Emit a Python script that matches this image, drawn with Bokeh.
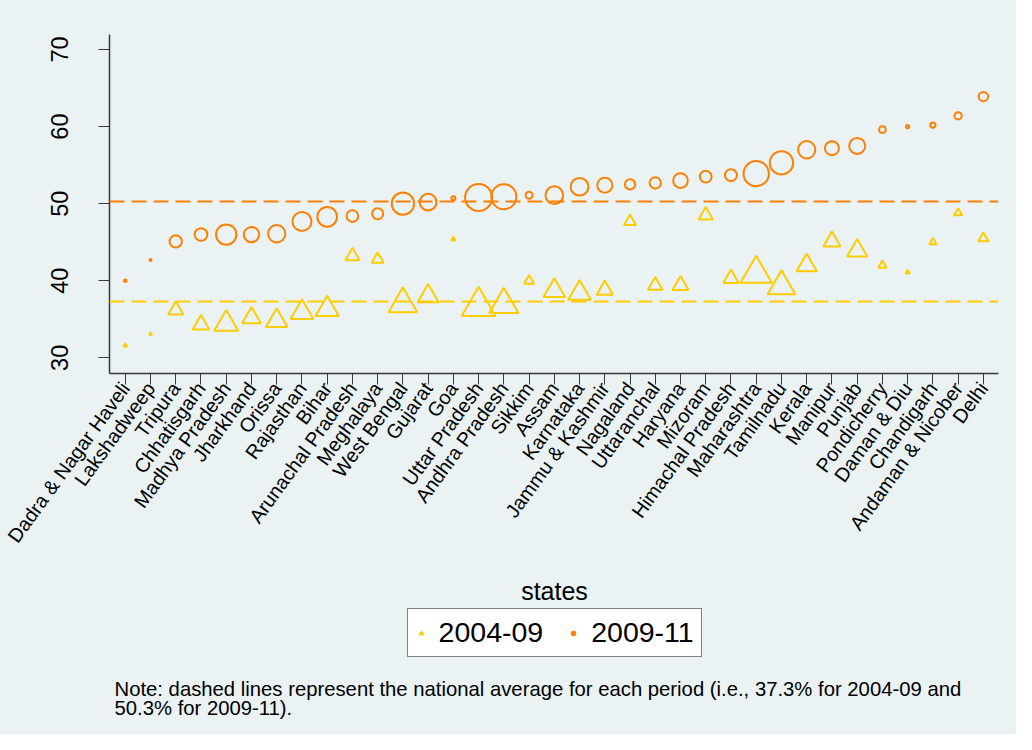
import math
from bokeh.plotting import figure
from bokeh.layouts import column
from bokeh.models import (ColumnDataSource, Range1d, FixedTicker, Span, Label,
                          Legend, LegendItem)
from bokeh.embed import file_html
from bokeh.resources import INLINE

# ---------------- data ----------------
states = ["Dadra & Nagar Haveli", "Lakshadweep", "Tripura", "Chhatisgarh",
          "Madhya Pradesh", "Jharkhand", "Orissa", "Rajasthan", "Bihar",
          "Arunachal Pradesh", "Meghalaya", "West Bengal", "Gujarat", "Goa",
          "Uttar Pradesh", "Andhra Pradesh", "Sikkim", "Assam", "Karnataka",
          "Jammu & Kashmir", "Nagaland", "Uttaranchal", "Haryana", "Mizoram",
          "Himachal Pradesh", "Maharashtra", "Tamilnadu", "Kerala", "Manipur",
          "Punjab", "Pondicherry", "Daman & Diu", "Chandigarh",
          "Andaman & Nicober", "Delhi"]

share_0409 = [31.6, 33.1, 36.2, 34.3, 34.4, 35.2, 34.8, 35.9, 36.3, 43.2,
              42.8, 37.0, 38.0, 45.4, 36.7, 36.9, 40.0, 38.7, 38.4, 38.8,
              47.7, 39.4, 39.4, 48.5, 40.3, 40.9, 39.3, 42.0, 45.1, 43.9,
              42.0, 41.1, 45.0, 48.8, 45.5]

share_0911 = [40.0, 42.7, 45.1, 46.0, 46.0, 46.0, 46.1, 47.7, 48.3, 48.4,
              48.7, 50.0, 50.2, 50.7, 50.8, 50.9, 51.1, 51.1, 52.2, 52.4,
              52.5, 52.7, 53.0, 53.5, 53.7, 53.9, 55.3, 57.0, 57.2, 57.5,
              59.6, 60.0, 60.2, 61.4, 63.9]

# relative weights (marker area)
weight_0409 = [4.5, 3.6, 33.5, 38.8, 72.9, 47.1, 61.0, 66.0, 69.2, 29.9,
               22.5, 100.5, 57.6, 5.3, 134.7, 104.3, 16.9, 61.0, 66.0, 37.2,
               22.5, 31.3, 37.2, 29.9, 33.5, 117.6, 94.2, 54.3, 41.2, 54.3,
               12.8, 5.3, 10.6, 12.8, 17.7]

weight_0911 = [2.2, 1.6, 20.4, 21.6, 49.7, 29.9, 37.2, 44.1, 47.1, 18.8,
               16.9, 59.0, 35.0, 3.6, 84.1, 72.9, 8.1, 38.8, 38.8, 28.9,
               15.1, 17.7, 27.9, 18.8, 19.6, 74.5, 64.0, 37.2, 25.6, 32.4,
               7.6, 2.8, 5.3, 8.6, 12.8]

avg_0409 = 37.3
avg_0911 = 50.3

series_labels = ["2004-09", "2009-11"]
x_title = "states"
note_lines = ["Note: dashed lines represent the national average for each period (i.e., 37.3% for 2004-09 and",
              "50.3% for 2009-11)."]

# ---------------- styling ----------------
BG = "#EAF2F3"
GOLD = "#FFCC00"
ORANGE = "#FF7F00"
FONT = "Liberation Sans"
AXIS = "#3a3a3a"
W = 1016
H1, H2 = 560, 174
LEFT, RIGHT = 109, 18

idx = list(range(len(states)))
size_tri = [max(math.sqrt(w * 10) - 3.0, 2.0) for w in weight_0409]
size_cir = [max(math.sqrt(w * 10) - 2.0, 1.5) for w in weight_0911]

src = ColumnDataSource(dict(x=idx, y04=share_0409, y09=share_0911,
                            s04=size_tri, s09=size_cir))

# ---------------- main plot ----------------
p1 = figure(width=W, height=H1, output_backend="svg", toolbar_location=None,
            x_range=Range1d(-0.625, 34.6), y_range=Range1d(27.97, 71.95))
p1.min_border_left = LEFT
p1.min_border_right = RIGHT
p1.min_border_top = 34
p1.min_border_bottom = H1 - 373
p1.background_fill_color = BG
p1.border_fill_color = BG
p1.outline_line_color = None
p1.grid.visible = False

r1 = p1.scatter("x", "y04", source=src, size="s04", marker="triangle",
                fill_color=None, line_color=GOLD, line_width=2)
r2 = p1.scatter("x", "y09", source=src, size="s09", marker="circle",
                fill_color=None, line_color=ORANGE, line_width=2)

p1.add_layout(Span(location=avg_0409, dimension="width", line_color=GOLD,
                   line_width=2, line_dash="15 7"))
p1.add_layout(Span(location=avg_0911, dimension="width", line_color=ORANGE,
                   line_width=2, line_dash="15 7"))

xa = p1.xaxis[0]
xa.ticker = FixedTicker(ticks=idx)
xa.major_label_overrides = {i: s for i, s in enumerate(states)}
xa.major_label_orientation = math.radians(54)
xa.major_label_text_font = FONT
xa.major_label_text_font_size = "19.8px"
xa.major_label_text_color = "black"
xa.major_label_standoff = 0
xa.major_tick_out = 11
xa.major_tick_in = 0
xa.minor_tick_out = 0
xa.minor_tick_in = 0
xa.axis_line_color = AXIS
xa.axis_line_width = 1.5
xa.major_tick_line_color = AXIS

ya = p1.yaxis[0]
ya.ticker = FixedTicker(ticks=[30, 40, 50, 60, 70])
ya.major_label_orientation = "vertical"
ya.major_label_text_font = FONT
ya.major_label_text_font_size = "23.5px"
ya.major_label_text_color = "black"
ya.major_label_standoff = 30
ya.major_tick_out = 11
ya.major_tick_in = 0
ya.minor_tick_out = 0
ya.minor_tick_in = 0
ya.axis_line_color = AXIS
ya.axis_line_width = 1.5
ya.major_tick_line_color = AXIS

# ---------------- bottom panel: axis title, legend, note ----------------
p2 = figure(width=W, height=H2, output_backend="svg", toolbar_location=None,
            x_range=Range1d(LEFT, W - RIGHT), y_range=Range1d(0, H2),
            x_axis_location=None, y_axis_location=None)
p2.min_border = 0
p2.min_border_left = LEFT
p2.min_border_right = RIGHT
p2.background_fill_color = BG
p2.border_fill_color = BG
p2.outline_line_color = None
p2.grid.visible = False

# y positions below are measured upward from the bottom of the page area
p2.add_layout(Label(x=554, y=144, y_units="screen", text=x_title,
                    text_font=FONT, text_font_size="25px", text_align="center",
                    text_baseline="alphabetic", text_color="black"))

nan = float("nan")
g1 = p2.scatter(x=[nan], y=[nan], marker="triangle", fill_color=GOLD,
                line_color=GOLD, line_width=1)
g2 = p2.scatter(x=[nan], y=[nan], marker="circle", fill_color=ORANGE,
                line_color=ORANGE, line_width=1)

legend = Legend(items=[LegendItem(label=series_labels[0], renderers=[g1]),
                       LegendItem(label=series_labels[1], renderers=[g2])],
                orientation="horizontal", location=(406.6 - LEFT, 77), margin=0,
                padding=7, spacing=24, label_standoff=12,
                glyph_width=12, glyph_height=12,
                label_text_font=FONT, label_text_font_size="28.5px",
                label_text_color="black",
                border_line_color="black", border_line_width=1,
                background_fill_color="white", background_fill_alpha=1.0)
p2.add_layout(legend)

for k, line in enumerate(note_lines):
    p2.add_layout(Label(x=114, y=46 - 19.6 * k, y_units="screen", text=line,
                        text_font=FONT, text_font_size="20.3px",
                        text_align="left", text_baseline="alphabetic",
                        text_color="black"))

p = column(p1, p2, spacing=0, styles={"background-color": BG})

open("out.html", "w").write(file_html(p, INLINE))
